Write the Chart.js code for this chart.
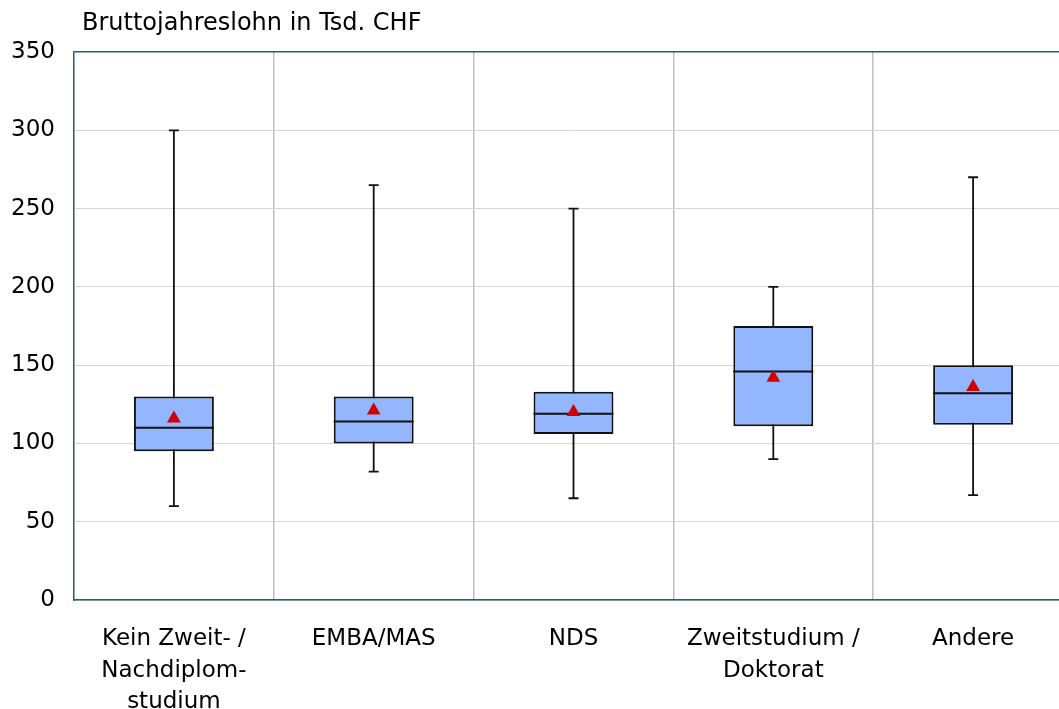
<!DOCTYPE html>
<html>
<head>
<meta charset="utf-8">
<script src="https://cdn.jsdelivr.net/npm/chart.js@4.4.1/dist/chart.umd.min.js"></script>
<style>
  html, body { margin: 0; padding: 0; overflow: hidden; background: #fff; }
  canvas { display: block; }
</style>
</head>
<body>
<canvas id="c" width="1081" height="709" style="width:1081px;height:709px"></canvas>
<script>
const categories = [
  ['Kein Zweit- /', 'Nachdiplom-', 'studium'],
  ['EMBA/MAS'],
  ['NDS'],
  ['Zweitstudium /', 'Doktorat'],
  ['Andere']
];
const whiskerLow  = [60, 82, 65, 90, 67];
const q1          = [95, 100, 106, 111, 112];
const median      = [110, 114, 119, 146, 132];
const q3          = [130, 130, 133, 175, 150];
const whiskerHigh = [300, 265, 250, 200, 270];
const mean        = [116, 121, 120, 142, 136];
const yTicks      = [0, 50, 100, 150, 200, 250, 300, 350];
const yTitle = 'Bruttojahreslohn in Tsd. CHF';

const FONT = '"DejaVu Sans", sans-serif';
const TEAL = '#1F5F7F';

const boxPlugin = {
  id: 'boxExtras',
  beforeDatasetsDraw(chart) {
    const ctx = chart.ctx, x = chart.scales.x, y = chart.scales.y;
    ctx.save();
    ctx.strokeStyle = '#111';
    ctx.lineWidth = 1.8;
    categories.forEach((c, i) => {
      const cx = x.getPixelForValue(i);
      const yl = y.getPixelForValue(whiskerLow[i]);
      const yh = y.getPixelForValue(whiskerHigh[i]);
      ctx.beginPath();
      ctx.moveTo(cx, yl); ctx.lineTo(cx, yh);
      ctx.moveTo(cx - 5, yl); ctx.lineTo(cx + 5, yl);
      ctx.moveTo(cx - 5, yh); ctx.lineTo(cx + 5, yh);
      ctx.stroke();
    });
    ctx.restore();
  },
  afterDatasetDraw(chart, args) {
    if (args.index !== 0) return;
    const ctx = chart.ctx, x = chart.scales.x, y = chart.scales.y;
    const meta = chart.getDatasetMeta(0);
    ctx.save();
    ctx.strokeStyle = '#111';
    ctx.lineWidth = 2;
    meta.data.forEach((bar, i) => {
      const w = bar.width / 2;
      const cx = x.getPixelForValue(i);
      const ym = y.getPixelForValue(median[i]);
      ctx.beginPath();
      ctx.moveTo(cx - w, ym); ctx.lineTo(cx + w, ym);
      ctx.stroke();
    });
    ctx.restore();
  },
  afterDraw(chart) {
    const ctx = chart.ctx;
    ctx.save();
    ctx.fillStyle = '#000';
    ctx.font = '24px ' + FONT;
    ctx.textBaseline = 'alphabetic';
    ctx.textAlign = 'left';
    ctx.fillText(yTitle, chart.chartArea.left + 8, 30);
    ctx.restore();
  }
};

new Chart(document.getElementById('c'), {
  type: 'bar',
  data: {
    labels: categories,
    datasets: [
      {
        type: 'bar',
        data: q1.map((v, i) => [v, q3[i]]),
        backgroundColor: '#94B6FF',
        borderColor: '#111',
        borderWidth: 2,
        borderSkipped: false,
        barPercentage: 0.4,
        categoryPercentage: 1.0,
        order: 2
      },
      {
        type: 'line',
        data: mean,
        showLine: false,
        pointStyle: 'triangle',
        pointRadius: 8,
        pointBackgroundColor: '#CC0000',
        pointBorderColor: '#CC0000',
        pointBorderWidth: 0,
        order: 1
      }
    ]
  },
  options: {
    responsive: false,
    animation: false,
    layout: { padding: { top: 52, left: 0, right: 1, bottom: 0 } },
    plugins: { legend: { display: false }, tooltip: { enabled: false }, title: { display: false } },
    scales: {
      x: {
        offset: true,
        grid: {
          offset: true,
          drawTicks: false,
          lineWidth: 1.5,
          color: (ctx) => ctx.index === 0 ? 'rgba(0,0,0,0)' : '#C0C0C0'
        },
        border: { color: TEAL, width: 1.5 },
        ticks: {
          color: '#000',
          font: { family: FONT, size: 23, lineHeight: 1.35 },
          padding: 24,
          maxRotation: 0,
          autoSkip: false
        },
        afterFit(scale) { scale.height = 109; }
      },
      y: {
        min: 0,
        max: 350,
        afterBuildTicks(scale) { scale.ticks = yTicks.map(v => ({ value: v })); },
        grid: {
          drawTicks: false,
          lineWidth: (ctx) => ctx.tick && ctx.tick.value === 350 ? 1.5 : 1,
          color: (ctx) => ctx.tick && ctx.tick.value === 350 ? TEAL : '#D6D6D6'
        },
        border: { color: TEAL, width: 1.5 },
        ticks: {
          color: '#000',
          font: { family: FONT, size: 23 },
          padding: 19
        },
        afterFit(scale) { scale.width = 74; }
      }
    }
  },
  plugins: [boxPlugin]
});
</script>
</body>
</html>
